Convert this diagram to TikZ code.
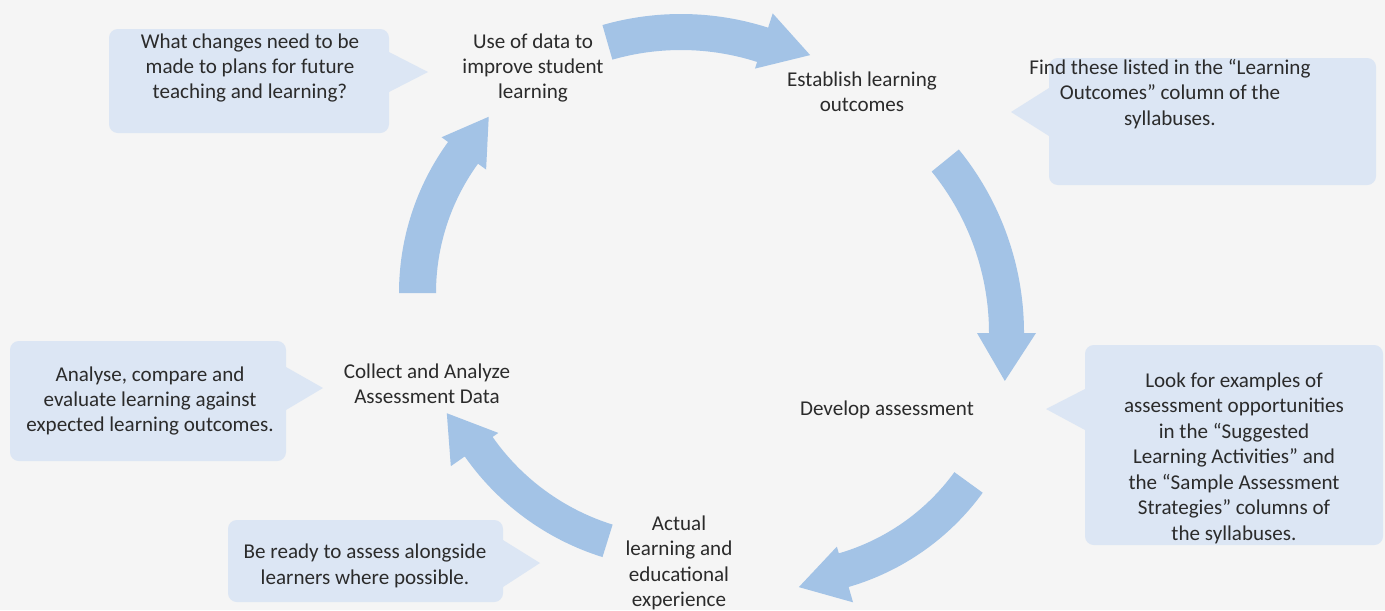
\documentclass[tikz,border=0pt]{standalone}
\usepackage{fontspec}
\setmainfont{Carlito}
\usetikzlibrary{fit}
\definecolor{notefill}{HTML}{DCE6F4}
\definecolor{cyclefill}{HTML}{A3C3E6}
\definecolor{inktext}{HTML}{2B2B2B}
\definecolor{paper}{HTML}{F5F5F5}

\begin{document}
\begin{tikzpicture}[x=0.02cm, y=-0.02cm,
    callout/.style={fill=notefill, rounded corners=5pt, inner sep=0pt, outer sep=0pt},
    note/.style={text=inktext, align=center, inner sep=0pt,
      font=\fontsize{12}{14.5}\selectfont},
    stage/.style={note},
    cyclearrow/.style={fill=cyclefill}]
    \fill[paper] (0,0) rectangle (1385,610);
    \useasboundingbox (0,0) rectangle (1385,610);

    % centres of the cycle arrows
    \coordinate (c1) at (681,299);
    \coordinate (c2) at (733,333);
    \coordinate (c3) at (778,344);
    \coordinate (c4) at (681,305);
    \coordinate (c5) at (656,293);
    \fill[cyclearrow] ([shift={(c1)}]-106:285) arc[start angle=-106, end angle=-72.2, radius=285]
      -- ([shift={(c1)}]-72.2:300) -- ([shift={(c1)}]-62.1:276) -- ([shift={(c1)}]-72.2:242)
      -- ([shift={(c1)}]-72.2:249) arc[start angle=-72.2, end angle=-106, radius=249] -- cycle;
    \fill[cyclearrow] ([shift={(c2)}]-39.1:291) arc[start angle=-39.1, end angle=0, radius=291]
      -- ([shift={(c2)}]0:303) -- ([shift={(c2)}]10:276) -- ([shift={(c2)}]0:244)
      -- ([shift={(c2)}]0:256) arc[start angle=0, end angle=-39.1, radius=256] -- cycle;
    \fill[cyclearrow] ([shift={(c3)}]36:253) arc[start angle=36, end angle=73.8, radius=253]
      -- ([shift={(c3)}]73.8:269) -- ([shift={(c3)}]85.1:244) -- ([shift={(c3)}]73.8:211)
      -- ([shift={(c3)}]73.8:218) arc[start angle=73.8, end angle=36, radius=218] -- cycle;
    \fill[cyclearrow] ([shift={(c4)}]107.3:264) arc[start angle=107.3, end angle=145, radius=264]
      -- ([shift={(c4)}]145:281) -- ([shift={(c4)}]155.2:258) -- ([shift={(c4)}]145:223)
      -- ([shift={(c4)}]145:230) arc[start angle=145, end angle=107.3, radius=230] -- cycle;
    \fill[cyclearrow] ([shift={(c5)}]180:257) arc[start angle=180, end angle=216, radius=257]
      -- ([shift={(c5)}]216:265) -- ([shift={(c5)}]226.5:243) -- ([shift={(c5)}]216:210)
      -- ([shift={(c5)}]216:220) arc[start angle=216, end angle=180, radius=220] -- cycle;

    % stages of the cycle
    \node[stage] (datause) at (533,68) {Use of data to\\improve student\\learning};
    \node[stage] (outcomes) at (862,92) {Establish learning\\outcomes};
    \node[stage] (develop) at (887,410) {Develop assessment};
    \node[stage] (actual) at (679,563) {Actual\\learning and\\educational\\experience};
    \node[stage] (collect) at (427,384) {Collect and Analyze\\Assessment Data};

    % callouts
    \node[callout, fit={(109,29) (389,133)}] (whatbox) {};
    \coordinate (whattip) at (428,72);
    \fill[notefill] (389,52) -- (whattip) -- (389,92) -- cycle;
    \node[note] (whattext) at (250,68) {What changes need to be\\made to plans for future\\teaching and learning?};

    \node[callout, fit={(1049,58) (1376,185)}] (findbox) {};
    \coordinate (findtip) at (1011,112);
    \fill[notefill] (1049,88) -- (findtip) -- (1049,136) -- cycle;
    \node[note] (findtext) at (1170,94) {Find these listed in the ``Learning\\Outcomes'' column of the\\syllabuses.};

    \node[callout, fit={(1085,345) (1383,545)}] (lookbox) {};
    \coordinate (looktip) at (1046,409);
    \fill[notefill] (1085,389) -- (looktip) -- (1085,430) -- cycle;
    \node[note] (looktext) at (1234,458) {Look for examples of\\assessment opportunities\\in the ``Suggested\\Learning Activities'' and\\the ``Sample Assessment\\Strategies'' columns of\\the syllabuses.};

    \node[callout, fit={(10,341) (286,461)}] (analysebox) {};
    \coordinate (analysetip) at (323,388);
    \fill[notefill] (286,367) -- (analysetip) -- (286,410) -- cycle;
    \node[note] (analysetext) at (150,401) {Analyse, compare and\\evaluate learning against\\expected learning outcomes.};

    \node[callout, fit={(228,520) (503,602)}] (readybox) {};
    \coordinate (readytip) at (540,563);
    \fill[notefill] (503,540) -- (readytip) -- (503,587) -- cycle;
    \node[note] (readytext) at (365,566) {Be ready to assess alongside\\learners where possible.};
\end{tikzpicture}
\end{document}
